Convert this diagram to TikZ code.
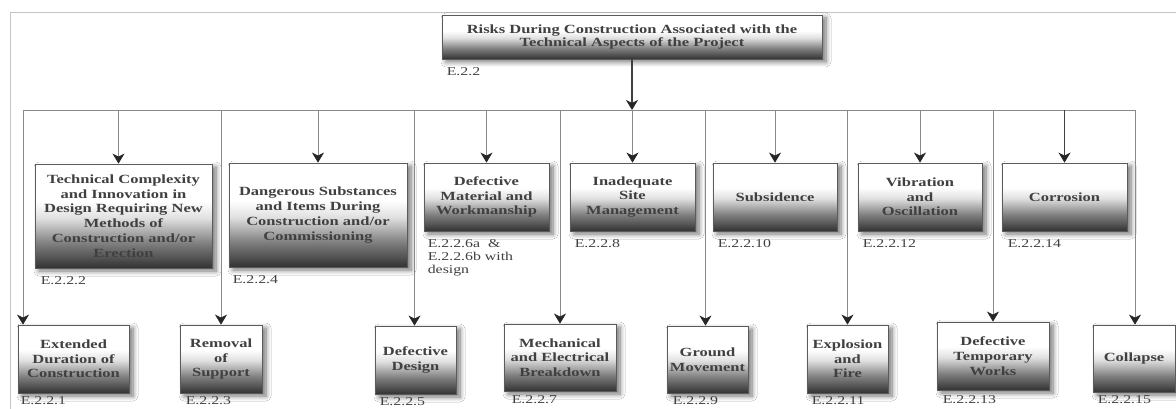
\documentclass[tikz,border=0pt]{standalone}
\usepackage{fontspec}
\setmainfont{Liberation Serif}[FakeStretch=1.32]
\usetikzlibrary{arrows.meta,shadows.blur}
\definecolor{txt}{HTML}{404040}
\definecolor{edgec}{HTML}{5a5a5a}
\definecolor{wirec}{HTML}{8a8a8a}
\definecolor{framec}{HTML}{c4c4c4}
\pgfdeclareverticalshading{boxshade}{100bp}{color(0bp)=(black!80); color(25bp)=(black!80); color(37bp)=(black!50); color(49bp)=(black!12); color(57bp)=(white); color(100bp)=(white)}
\begin{document}
\begin{tikzpicture}[x=1pt,y=-1pt,
  box/.style={draw=edgec, line width=0.8pt, shading=boxshade,
    blur shadow={shadow xshift=4pt, shadow yshift=-3pt, shadow blur radius=5pt, shadow blur steps=8, shadow opacity=55},
    text=txt, align=center, inner sep=2pt, font=\fontsize{12.5}{14.7}\selectfont\bfseries},
  rootbox/.style={box, font=\fontsize{12.5}{13.3}\selectfont\bfseries},
  lbl/.style={anchor=north west, inner sep=0pt, text=txt, align=left, font=\fontsize{12}{13}\selectfont},
  wire/.style={draw=wirec, line width=0.8pt},
  arr/.style={wire, -{Stealth[length=10pt, width=12pt, inset=3pt, color=black!85]}},
  heavy/.style={draw=black!75, line width=1.5pt, -{Stealth[length=10pt, width=12pt, inset=3pt, color=black!85]}},
  framel/.style={draw=framec, line width=0.8pt}
]
\useasboundingbox[fill=white] (0,0) rectangle (1176,409);
\draw[framel] (10,12) -- (1176,12);
\draw[framel] (10,12) -- (10,409);

% root
\node[rootbox, minimum width=380pt, minimum height=44pt] (root) at (632,37)
  {Risks During Construction Associated with the\\Technical Aspects of the Project};
\node[lbl] (lroot) at ([xshift=5pt,yshift=-8pt]root.south west) {E.2.2};

% top row
\node[box, minimum width=177pt, minimum height=104pt] (tc) at (123.5,216)
  {Technical Complexity\\and Innovation in\\Design Requiring New\\Methods of\\Construction and/or\\Erection};
\node[box, minimum width=178pt, minimum height=104pt] (ds) at (318,215)
  {Dangerous Substances\\and Items During\\Construction and/or\\Commissioning};
\node[box, minimum width=125pt, minimum height=68pt] (dm) at (486.5,197)
  {Defective\\Material and\\Workmanship};
\node[box, minimum width=125pt, minimum height=68pt] (is) at (632.5,197)
  {Inadequate\\Site\\Management};
\node[box, minimum width=124pt, minimum height=68pt] (sb) at (775,197)
  {Subsidence};
\node[box, minimum width=124pt, minimum height=68pt] (vo) at (920,197)
  {Vibration\\and\\Oscillation};
\node[box, minimum width=125pt, minimum height=68pt] (co) at (1064.5,197)
  {Corrosion};

\node[lbl] (ltc) at ([xshift=6pt,yshift=-8pt]tc.south west) {E.2.2.2};
\node[lbl] (lds) at ([xshift=4pt,yshift=-8pt]ds.south west) {E.2.2.4};
\node[lbl] (ldm) at ([xshift=4pt,yshift=-8pt]dm.south west) {E.2.2.6a\ \ \&\\E.2.2.6b with\\design};
\node[lbl] (lis) at ([xshift=5pt,yshift=-8pt]is.south west) {E.2.2.8};
\node[lbl] (lsb) at ([xshift=5pt,yshift=-8pt]sb.south west) {E.2.2.10};
\node[lbl] (lvo) at ([xshift=5pt,yshift=-8pt]vo.south west) {E.2.2.12};
\node[lbl] (lco) at ([xshift=6pt,yshift=-8pt]co.south west) {E.2.2.14};

% bottom row
\node[box, minimum width=111pt, minimum height=68pt] (ed) at (73.5,359)
  {Extended\\Duration of\\Construction};
\node[box, minimum width=82pt, minimum height=68pt] (rs) at (221,359)
  {Removal\\of\\Support};
\node[box, minimum width=81pt, minimum height=68pt] (dd) at (415.5,360)
  {Defective\\Design};
\node[box, minimum width=112pt, minimum height=67pt] (me) at (560,357.5)
  {Mechanical\\and Electrical\\Breakdown};
\node[box, minimum width=81pt, minimum height=67pt] (gm) at (707.5,359.5)
  {Ground\\Movement};
\node[box, minimum width=81pt, minimum height=68pt] (ef) at (847.5,359)
  {Explosion\\and\\Fire};
\node[box, minimum width=112pt, minimum height=68pt] (dt) at (993,356)
  {Defective\\Temporary\\Works};
\node[box, minimum width=82pt, minimum height=67pt] (cl) at (1134,358.5)
  {Collapse};

\node[lbl] (led) at ([xshift=3pt,yshift=-3pt]ed.south west) {E.2.2.1};
\node[lbl] (lrs) at ([xshift=6pt,yshift=-3pt]rs.south west) {E.2.2.3};
\node[lbl] (ldd) at ([xshift=5pt,yshift=-3pt]dd.south west) {E.2.2.5};
\node[lbl] (lme) at ([xshift=8pt,yshift=-4pt]me.south west) {E.2.2.7};
\node[lbl] (lgm) at ([xshift=6pt,yshift=-3pt]gm.south west) {E.2.2.9};
\node[lbl] (lef) at ([xshift=5pt,yshift=-3pt]ef.south west) {E.2.2.11};
\node[lbl] (ldt) at ([xshift=6pt,yshift=-5pt]dt.south west) {E.2.2.13};
\node[lbl] (lcl) at ([xshift=5pt,yshift=-3pt]cl.south west) {E.2.2.15};

% bus
\coordinate (busL) at (23,110);
\coordinate (busR) at (1135,110);
\draw[wire] (busL) -- (busR);
\draw[heavy] (root.south) -- (root.south |- busL);

% to top row
\draw[arr] ([xshift=-5pt]tc.north |- busL) -- ([xshift=-5pt]tc.north);
\draw[arr] (ds.north |- busL) -- (ds.north);
\draw[arr] (dm.north |- busL) -- (dm.north);
\draw[arr] (is.north |- busL) -- (is.north);
\draw[arr] (sb.north |- busL) -- (sb.north);
\draw[arr] (vo.north |- busL) -- (vo.north);
\draw[heavy] (co.north |- busL) -- (co.north);

% to bottom row
\draw[arr] (busL) -- (busL |- ed.north);
\draw[arr] (rs.north |- busL) -- (rs.north);
\draw[arr] ([xshift=-1pt]dd.north |- busL) -- ([xshift=-1pt]dd.north);
\draw[arr] (me.north |- busL) -- (me.north);
\draw[arr] ([xshift=-2pt]gm.north |- busL) -- ([xshift=-2pt]gm.north);
\draw[arr] (ef.north |- busL) -- (ef.north);
\draw[arr] (dt.north |- busL) -- (dt.north);
\draw[arr] (busR) -- (busR |- cl.north);
\end{tikzpicture}
\end{document}
